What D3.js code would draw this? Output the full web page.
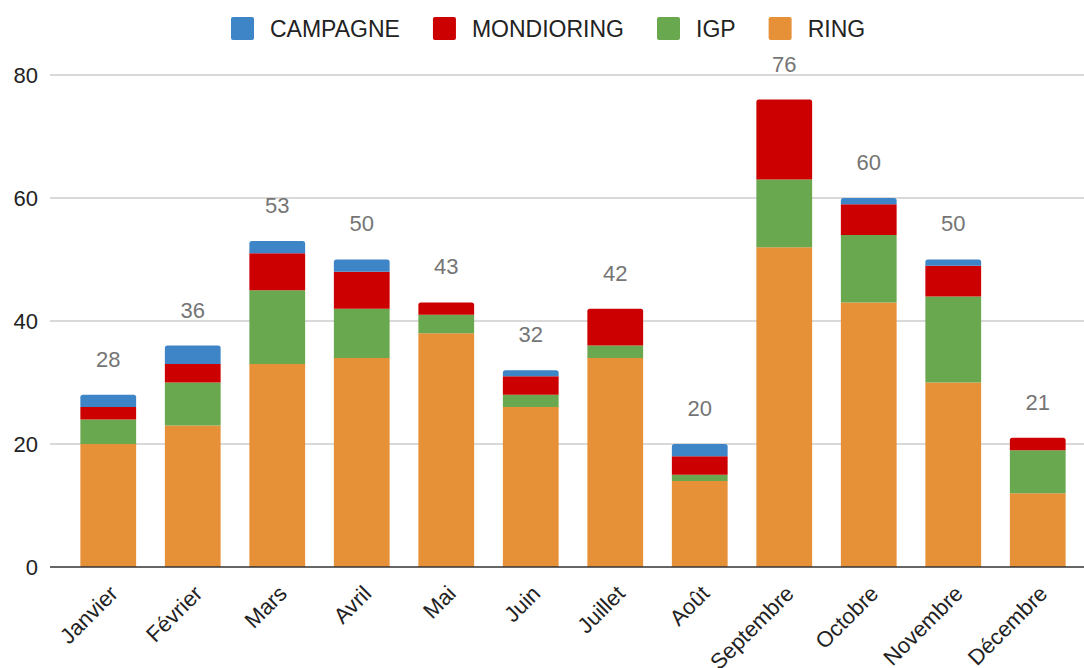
<!DOCTYPE html>
<html lang="fr"><head>
<meta charset="utf-8">
<title>stacked months</title>
<script src="https://cdn.jsdelivr.net/npm/d3@7"></script>
<style>
  body { margin: 0; background: #fff; }
  text { font-family: "Liberation Sans", Arial, sans-serif; }
</style>
</head>
<body>
<svg width="1084" height="668"></svg>
<script>
var months = ["Janvier", "Février", "Mars", "Avril", "Mai", "Juin", "Juillet", "Août", "Septembre", "Octobre", "Novembre", "Décembre"];
var seriesNames = ["RING", "IGP", "MONDIORING", "CAMPAGNE"];
var ring       = [20, 23, 33, 34, 38, 26, 34, 14, 52, 43, 30, 12];
var igp        = [ 4,  7, 12,  8,  3,  2,  2,  1, 11, 11, 14,  7];
var mondioring = [ 2,  3,  6,  6,  2,  3,  6,  3, 13,  5,  5,  2];
var campagne   = [ 2,  3,  2,  2,  0,  1,  0,  2,  0,  1,  1,  0];
var yTicks = [0, 20, 40, 60, 80];

var colors = {RING: "#e69138", IGP: "#6aa84f", MONDIORING: "#cc0000", CAMPAGNE: "#3d85c6"};
var legendOrder = ["CAMPAGNE", "MONDIORING", "IGP", "RING"];

var svg = d3.select("svg");

var rows = months.map(function(m, i) {
  return {month: m, RING: ring[i], IGP: igp[i], MONDIORING: mondioring[i], CAMPAGNE: campagne[i]};
});

var x = d3.scaleBand().domain(months).range([66, 1080]).paddingInner(0.34).paddingOuter(0.17);
var y = d3.scaleLinear().domain([0, 80]).range([567, 75]);

// grid
svg.append("g").selectAll("line")
  .data(yTicks.filter(function(d){ return d > 0; }))
  .enter().append("line")
  .attr("x1", 50).attr("x2", 1084)
  .attr("y1", function(d){ return y(d); }).attr("y2", function(d){ return y(d); })
  .attr("stroke", "#cccccc").attr("stroke-width", 1.5);

svg.append("g").selectAll("text")
  .data(yTicks)
  .enter().append("text")
  .attr("x", 38).attr("y", function(d){ return y(d); })
  .attr("dy", "0.36em")
  .attr("text-anchor", "end")
  .attr("font-size", "22px")
  .attr("fill", "#222")
  .text(function(d){ return d; });

var stack = d3.stack().keys(seriesNames);
var layers = stack(rows);

function topIndex(i) {
  var t = -1;
  seriesNames.forEach(function(k, j){ if (rows[i][k] > 0) t = j; });
  return t;
}

function segPath(x0, y0, w, y1, round) {
  var r = round ? Math.min(2.5, (y1 - y0)) : 0;
  return "M" + x0 + "," + y1 +
    "V" + (y0 + r) +
    (r ? "Q" + x0 + "," + y0 + " " + (x0 + r) + "," + y0 : "") +
    "H" + (x0 + w - r) +
    (r ? "Q" + (x0 + w) + "," + y0 + " " + (x0 + w) + "," + (y0 + r) : "") +
    "V" + y1 + "Z";
}

svg.append("g").selectAll("g")
  .data(layers)
  .enter().append("g")
  .attr("fill", function(d){ return colors[d.key]; })
  .each(function(layer, j) {
    d3.select(this).selectAll("path")
      .data(layer.filter(function(d){ return d[1] > d[0]; }))
      .enter().append("path")
      .attr("d", function(d) {
        var i = months.indexOf(d.data.month);
        return segPath(x(d.data.month), y(d[1]), x.bandwidth(), y(d[0]), topIndex(i) === j);
      });
  });

// baseline
svg.append("line")
  .attr("x1", 50).attr("x2", 1084)
  .attr("y1", y(0)).attr("y2", y(0))
  .attr("stroke", "#333").attr("stroke-width", 1.5);

// totals
svg.append("g").selectAll("text")
  .data(rows)
  .enter().append("text")
  .attr("x", function(d){ return x(d.month) + x.bandwidth() / 2; })
  .attr("y", function(d){ return y(d.RING + d.IGP + d.MONDIORING + d.CAMPAGNE) - 36; })
  .attr("dy", "0.36em")
  .attr("text-anchor", "middle")
  .attr("font-size", "22px")
  .attr("fill", "#757575")
  .text(function(d){ return d.RING + d.IGP + d.MONDIORING + d.CAMPAGNE; });

// month labels
svg.append("g").selectAll("text")
  .data(months)
  .enter().append("text")
  .attr("transform", function(d){ return "translate(" + (x(d) + x.bandwidth() / 2 + 11) + "," + 595 + ") rotate(-45)"; })
  .attr("text-anchor", "end")
  .attr("font-size", "22px")
  .attr("fill", "#222")
  .text(function(d){ return d; });

// legend
var lg = svg.append("g");
var lx = 231;
legendOrder.forEach(function(k) {
  lg.append("rect").attr("x", lx).attr("y", 17).attr("width", 23).attr("height", 23)
    .attr("rx", 2).attr("fill", colors[k]);
  var t = lg.append("text").attr("x", lx + 39).attr("y", 28.5).attr("dy", "0.36em")
    .attr("font-size", "23px").attr("fill", "#222").text(k);
  lx += 39 + t.node().getComputedTextLength() + 33;
});
</script>
</body>
</html>
